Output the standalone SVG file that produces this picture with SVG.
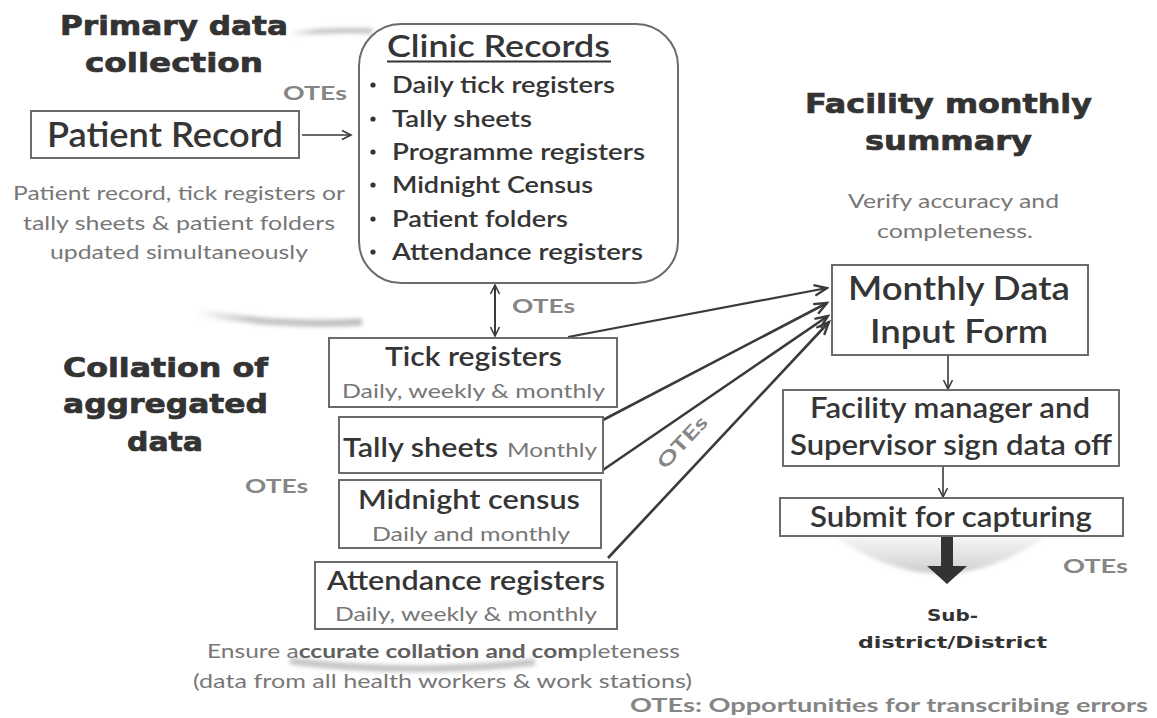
<svg xmlns="http://www.w3.org/2000/svg" width="1157" height="718" viewBox="0 0 1157 718">
  <defs>
    <style>
      .hd{font-family:"DejaVu Sans","Liberation Sans",sans-serif;font-weight:bold;fill:#333;stroke:#333;stroke-width:0.7px;font-size:27px}
      .dst{font-family:"DejaVu Sans","Liberation Sans",sans-serif;font-weight:bold;fill:#333;font-size:16px}
      .bx{fill:#fff;stroke:#6b6b6b;stroke-width:2}
      .tx{font-family:Lato,"Open Sans",sans-serif;font-weight:600;fill:#353535}
      .gy{font-family:Lato,"Open Sans",sans-serif;fill:#777}
      .ote{font-family:Lato,"Open Sans",sans-serif;font-weight:bold;fill:#858585;font-size:19px}
      .ln{fill:none;stroke:#3a3a3a}
      .sh{fill:none;stroke:#c4c4c4;filter:url(#soft)}
      .dot{fill:#353535}
    </style>
    <marker id="thin" markerUnits="userSpaceOnUse" markerWidth="12" markerHeight="12" refX="10" refY="5" orient="auto-start-reverse" viewBox="0 0 12 10">
      <path d="M1,0.5 L10,5 L1,9.5" fill="none" stroke="#3a3a3a" stroke-width="1.6"/>
    </marker>
    <marker id="open" markerUnits="userSpaceOnUse" markerWidth="16" markerHeight="14" refX="13" refY="6" orient="auto" viewBox="0 0 15 12">
      <path d="M1,1 L13,6 L1,11" fill="none" stroke="#3a3a3a" stroke-width="2.2"/>
    </marker>
    <filter id="soft" x="-20%" y="-200%" width="140%" height="500%">
      <feGaussianBlur stdDeviation="2"/>
    </filter>
    <linearGradient id="bowl" x1="0" y1="0" x2="0" y2="1">
      <stop offset="0" stop-color="#f4f4f4"/>
      <stop offset="0.7" stop-color="#dcdcdc"/>
      <stop offset="1" stop-color="#c6c6c6"/>
    </linearGradient>
    <linearGradient id="fadeL" x1="0" y1="0" x2="1" y2="0">
      <stop offset="0" stop-color="#c4c4c4" stop-opacity="0"/>
      <stop offset="0.35" stop-color="#c4c4c4"/>
      <stop offset="1" stop-color="#bdbdbd"/>
    </linearGradient>
  </defs>

  <rect width="1157" height="718" fill="#fff"/>

  <!-- soft backdrop shadows -->
  <g id="shadows">
    <path d="M288,34 Q330,29 372,31" stroke="url(#fadeL)" stroke-width="5" fill="none" filter="url(#soft)"/>
    <path d="M195,312 Q280,327 362,322" stroke="url(#fadeL)" stroke-width="7" fill="none" filter="url(#soft)"/>
    <path d="M290,661 Q410,676 535,662" class="sh" stroke-width="7"/>
    <path d="M836,537 Q940,610 1045,537 Z" fill="url(#bowl)" filter="url(#soft)"/>
  </g>

  <!-- section headings -->
  <g id="headings">
    <text class="hd" x="60" y="35" textLength="228" lengthAdjust="spacingAndGlyphs">Primary data</text>
    <text class="hd" x="85" y="72" textLength="178" lengthAdjust="spacingAndGlyphs">collection</text>
    <text class="hd" x="63" y="377" textLength="205" lengthAdjust="spacingAndGlyphs">Collation of</text>
    <text class="hd" x="63" y="413" textLength="205" lengthAdjust="spacingAndGlyphs">aggregated</text>
    <text class="hd" x="127" y="451" textLength="76" lengthAdjust="spacingAndGlyphs">data</text>
    <text class="hd" x="805" y="113" textLength="287" lengthAdjust="spacingAndGlyphs">Facility monthly</text>
    <text class="hd" x="865" y="150" textLength="167" lengthAdjust="spacingAndGlyphs">summary</text>
  </g>

  <!-- notes -->
  <g id="notes" font-size="19">
    <text class="gy" x="13" y="200" textLength="332" lengthAdjust="spacingAndGlyphs">Patient record, tick registers or</text>
    <text class="gy" x="23" y="230" textLength="312" lengthAdjust="spacingAndGlyphs">tally sheets &amp; patient folders</text>
    <text class="gy" x="50" y="259" textLength="258" lengthAdjust="spacingAndGlyphs">updated simultaneously</text>
    <text class="gy" x="848" y="208" textLength="211" lengthAdjust="spacingAndGlyphs">Verify accuracy and</text>
    <text class="gy" x="877" y="238" textLength="156" lengthAdjust="spacingAndGlyphs">completeness.</text>
    <text class="gy" x="207" y="658" textLength="473" lengthAdjust="spacingAndGlyphs">Ensure a<tspan fill="#606060" font-weight="bold">ccurate collation and com</tspan>pleteness</text>
    <text class="gy" x="193" y="688" textLength="499" lengthAdjust="spacingAndGlyphs">(data from all health workers &amp; work stations)</text>
  </g>

  <!-- OTE markers -->
  <g id="otes">
    <text class="ote" x="283" y="100" textLength="64" lengthAdjust="spacingAndGlyphs">OTEs</text>
    <text class="ote" x="512" y="313" textLength="63" lengthAdjust="spacingAndGlyphs">OTEs</text>
    <text class="ote" x="245" y="493" textLength="63" lengthAdjust="spacingAndGlyphs">OTEs</text>
    <text class="ote" x="1063" y="573" textLength="65" lengthAdjust="spacingAndGlyphs">OTEs</text>
    <text class="ote" transform="translate(682,442) rotate(-47)" x="-32" y="7" textLength="64" lengthAdjust="spacingAndGlyphs">OTEs</text>
    <text class="ote" x="630" y="712" font-size="21" textLength="518" lengthAdjust="spacingAndGlyphs">OTEs: Opportunities for transcribing errors</text>
  </g>

  <!-- connectors -->
  <g id="connectors">
    <path class="ln" d="M302,135 L351,135" stroke-width="1.6" marker-end="url(#thin)"/>
    <path class="ln" d="M495,285 L495,336" stroke-width="2" marker-start="url(#thin)" marker-end="url(#thin)"/>
    <path class="ln" d="M568,337 L827,288" stroke-width="2.2" marker-end="url(#open)"/>
    <path class="ln" d="M603,420 L827,303" stroke-width="2.6" marker-end="url(#open)"/>
    <path class="ln" d="M600,472 L828,316" stroke-width="2.6" marker-end="url(#open)"/>
    <path class="ln" d="M608,558 L829,322" stroke-width="2.6" marker-end="url(#open)"/>
    <path class="ln" d="M948,355 L948,389" stroke-width="1.6" marker-end="url(#thin)"/>
    <path class="ln" d="M943,466 L943,497" stroke-width="1.6" marker-end="url(#thin)"/>
    <path d="M941,537 L953,537 L953,566 L967,566 L947,584 L927,566 L941,566 Z" fill="#333"/>
  </g>

  <!-- nodes -->
  <g id="patient-record">
    <rect class="bx" x="31" y="111" width="268" height="47"/>
    <text class="tx" x="47" y="147" font-size="34" font-weight="normal" textLength="236" lengthAdjust="spacingAndGlyphs">Patient Record</text>
  </g>

  <g id="clinic-records">
    <rect class="bx" x="359" y="24" width="319" height="259" rx="42"/>
    <text class="tx" x="387" y="57" font-size="31" textLength="223" lengthAdjust="spacingAndGlyphs">Clinic Records</text>
    <line x1="387" y1="61.5" x2="611" y2="61.5" stroke="#353535" stroke-width="2"/>
    <g>
      <circle class="dot" cx="373" cy="85" r="2.6"/>
      <circle class="dot" cx="373" cy="119" r="2.6"/>
      <circle class="dot" cx="373" cy="152" r="2.6"/>
      <circle class="dot" cx="373" cy="185" r="2.6"/>
      <circle class="dot" cx="373" cy="219" r="2.6"/>
      <circle class="dot" cx="373" cy="252" r="2.6"/>
    </g>
    <g font-size="23">
      <text class="tx" x="392" y="93" textLength="223" lengthAdjust="spacingAndGlyphs">Daily tick registers</text>
      <text class="tx" x="392" y="127" textLength="140" lengthAdjust="spacingAndGlyphs">Tally sheets</text>
      <text class="tx" x="392" y="160" textLength="253" lengthAdjust="spacingAndGlyphs">Programme registers</text>
      <text class="tx" x="392" y="193" textLength="201" lengthAdjust="spacingAndGlyphs">Midnight Census</text>
      <text class="tx" x="392" y="227" textLength="176" lengthAdjust="spacingAndGlyphs">Patient folders</text>
      <text class="tx" x="392" y="260" textLength="251" lengthAdjust="spacingAndGlyphs">Attendance registers</text>
    </g>
  </g>

  <g id="tick-registers">
    <rect class="bx" x="329" y="338" width="288" height="69"/>
    <text class="tx" x="385" y="366" font-size="27" textLength="177" lengthAdjust="spacingAndGlyphs">Tick registers</text>
    <text class="gy" x="342" y="398" font-size="20" textLength="263" lengthAdjust="spacingAndGlyphs">Daily, weekly &amp; monthly</text>
  </g>

  <g id="tally-sheets">
    <rect class="bx" x="339" y="417" width="264" height="56"/>
    <text class="tx" x="343" y="457" font-size="27" textLength="155" lengthAdjust="spacingAndGlyphs">Tally sheets</text>
    <text class="gy" x="507" y="457" font-size="20" textLength="90" lengthAdjust="spacingAndGlyphs">Monthly</text>
  </g>

  <g id="midnight-census">
    <rect class="bx" x="339" y="480" width="262" height="68"/>
    <text class="tx" x="358" y="509" font-size="27" textLength="222" lengthAdjust="spacingAndGlyphs">Midnight census</text>
    <text class="gy" x="372" y="541" font-size="20" textLength="198" lengthAdjust="spacingAndGlyphs">Daily and monthly</text>
  </g>

  <g id="attendance-registers">
    <rect class="bx" x="315" y="562" width="302" height="67"/>
    <text class="tx" x="327" y="590" font-size="27" textLength="278" lengthAdjust="spacingAndGlyphs">Attendance registers</text>
    <text class="gy" x="335" y="621" font-size="20" textLength="262" lengthAdjust="spacingAndGlyphs">Daily, weekly &amp; monthly</text>
  </g>

  <g id="monthly-data-input-form">
    <rect class="bx" x="832" y="265" width="256" height="90"/>
    <text class="tx" x="848" y="300" font-size="33" font-weight="normal" textLength="222" lengthAdjust="spacingAndGlyphs">Monthly Data</text>
    <text class="tx" x="870" y="343" font-size="33" font-weight="normal" textLength="178" lengthAdjust="spacingAndGlyphs">Input Form</text>
  </g>

  <g id="sign-off">
    <rect class="bx" x="783" y="390" width="336" height="76"/>
    <text class="tx" x="810" y="418" font-size="28" textLength="280" lengthAdjust="spacingAndGlyphs">Facility manager and</text>
    <text class="tx" x="790" y="455" font-size="28" textLength="322" lengthAdjust="spacingAndGlyphs">Supervisor sign data off</text>
  </g>

  <g id="submit">
    <rect class="bx" x="780" y="498" width="343" height="38"/>
    <text class="tx" x="810" y="527" font-size="28" textLength="282" lengthAdjust="spacingAndGlyphs">Submit for capturing</text>
  </g>

  <g id="district">
    <text class="dst" x="927" y="621" textLength="51" lengthAdjust="spacingAndGlyphs">Sub-</text>
    <text class="dst" x="858" y="648" textLength="189" lengthAdjust="spacingAndGlyphs">district/District</text>
  </g>
</svg>
